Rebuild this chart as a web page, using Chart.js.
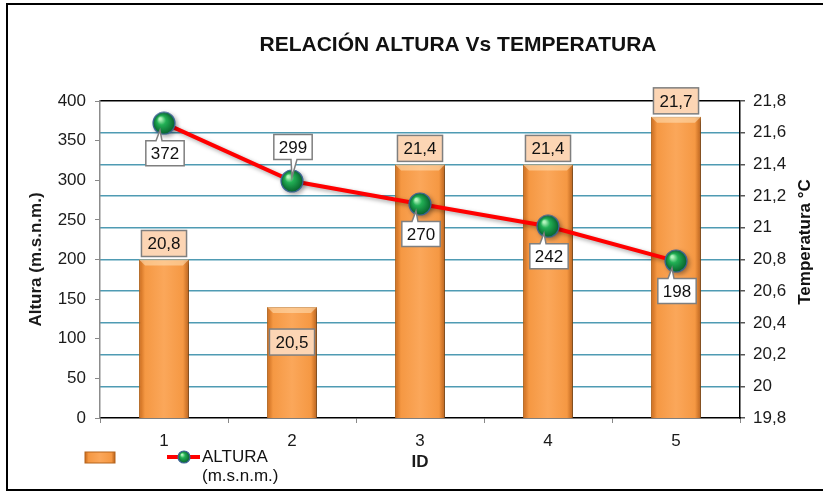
<!DOCTYPE html>
<html lang="es">
<head>
<meta charset="UTF-8" />
<title>Relación Altura Vs Temperatura</title>
<script src="https://cdn.jsdelivr.net/npm/chart.js@4"></script>
<style>
  html, body { margin: 0; padding: 0; background: #fff; }
  #wrap { width: 823px; height: 491px; }
</style>
</head>
<body>
<div id="wrap"><canvas id="chart" width="823" height="491"></canvas></div>
<script>
// data
const ids = ["1", "2", "3", "4", "5"];
const temperatura = [20.8, 20.5, 21.4, 21.4, 21.7];
const altura = [372, 299, 270, 242, 198];
const barLabelPlace = ["above", "inside", "above", "above", "above"];
const lineLabelPlace = ["below", "above", "below", "below", "below"];

const FONT = "'Liberation Sans', Arial, sans-serif";
const BAR_PCT = 0.39;
const GRID_BLUE = "#4F9BB3";

Chart.defaults.font.family = FONT;
Chart.defaults.font.size = 17;
Chart.defaults.color = "#1a1a1a";

const comma = (v) => String(Number(v.toFixed(1))).replace(".", ",");

// green ball used as point style
function sphere(r) {
  const c = document.createElement("canvas");
  const s = r * 2 + 2;
  c.width = c.height = s;
  const g = c.getContext("2d");
  const grad = g.createRadialGradient(s / 2 - r * 0.35, s / 2 - r * 0.4, r * 0.1, s / 2, s / 2, r);
  grad.addColorStop(0, "#B4F5BE");
  grad.addColorStop(0.35, "#22B055");
  grad.addColorStop(1, "#07602B");
  g.beginPath();
  g.arc(s / 2, s / 2, r, 0, Math.PI * 2);
  g.fillStyle = grad;
  g.fill();
  g.lineWidth = 1.2;
  g.strokeStyle = "#3D6596";
  g.stroke();
  return c;
}
const ball = sphere(11);
const smallBall = sphere(6);

function orangeGrad(ctx, x0, x1) {
  const g = ctx.createLinearGradient(x0, 0, x1, 0);
  g.addColorStop(0, "#C8691C");
  g.addColorStop(0.12, "#F59843");
  g.addColorStop(0.5, "#FBA75A");
  g.addColorStop(0.88, "#F59843");
  g.addColorStop(1, "#B9611B");
  return g;
}

function barFill(c) {
  const x = c.chart.scales.x;
  if (!x || c.dataIndex === undefined) return "#F79646";
  const cx = x.getPixelForValue(c.dataIndex);
  const half = (x.width / ids.length) * BAR_PCT / 2;
  if (!isFinite(cx) || !isFinite(half) || half <= 0) return "#F79646";
  return orangeGrad(c.chart.ctx, cx - half, cx + half);
}

function box(ctx, x, y, w, h, fill, text) {
  ctx.fillStyle = fill;
  ctx.fillRect(x, y, w, h);
  ctx.strokeStyle = "#7F7F7F";
  ctx.lineWidth = 1.5;
  ctx.strokeRect(x, y, w, h);
  ctx.fillStyle = "#111";
  ctx.fillText(text, x + w / 2, y + h / 2 + 1);
}

const decor = {
  id: "decor",
  beforeDatasetDraw(chart, args) {
    const ctx = chart.ctx;
    ctx.save();
    ctx.shadowColor = "rgba(0,0,0,0.35)";
    ctx.shadowOffsetX = args.index === 0 ? 3 : 2;
    ctx.shadowOffsetY = 2;
    ctx.shadowBlur = 4;
  },
  afterDatasetDraw(chart, args) {
    const ctx = chart.ctx;
    ctx.restore();
    if (args.index !== 0) return;
    // bevel on the bars
    args.meta.data.forEach((el) => {
      const { x, y, base, width } = el.getProps(["x", "y", "base", "width"], true);
      const l = x - width / 2, r = x + width / 2, b = 6;
      ctx.save();
      ctx.fillStyle = "rgba(255,225,185,0.55)";
      ctx.beginPath();
      ctx.moveTo(l, y); ctx.lineTo(r, y); ctx.lineTo(r - b, y + b); ctx.lineTo(l + b, y + b);
      ctx.closePath(); ctx.fill();
      ctx.fillStyle = "rgba(120,55,0,0.35)";
      ctx.beginPath();
      ctx.moveTo(l, base); ctx.lineTo(r, base); ctx.lineTo(r - b, base - b); ctx.lineTo(l + b, base - b);
      ctx.closePath(); ctx.fill();
      ctx.restore();
    });
  },
  afterDatasetsDraw(chart) {
    const ctx = chart.ctx;
    ctx.save();
    ctx.font = "17px " + FONT;
    ctx.textAlign = "center";
    ctx.textBaseline = "middle";

    // bar value labels
    chart.getDatasetMeta(0).data.forEach((el, i) => {
      const t = comma(temperatura[i]);
      const w = ctx.measureText(t).width + 12, h = 26;
      const cy = barLabelPlace[i] === "above" ? el.y - 3 - h / 2 : el.y + 35;
      box(ctx, el.x - w / 2, cy - h / 2, w, h, "#FCD5B4", t);
    });

    // callouts for the line
    chart.getDatasetMeta(1).data.forEach((el, i) => {
      const t = String(altura[i]);
      const w = ctx.measureText(t).width + 10, h = 25;
      const below = lineLabelPlace[i] === "below";
      const cx = el.x + 1;
      const cy = below ? el.y + 30 : el.y - 34;
      const x0 = cx - w / 2, x1 = cx + w / 2, y0 = cy - h / 2, y1 = cy + h / 2;
      ctx.beginPath();
      if (below) {
        ctx.moveTo(x0, y0); ctx.lineTo(cx - 9, y0); ctx.lineTo(el.x - 4, el.y + 7);
        ctx.lineTo(cx - 3, y0); ctx.lineTo(x1, y0); ctx.lineTo(x1, y1); ctx.lineTo(x0, y1);
      } else {
        ctx.moveTo(x0, y0); ctx.lineTo(x1, y0); ctx.lineTo(x1, y1); ctx.lineTo(cx + 4, y1);
        ctx.lineTo(el.x, el.y - 4); ctx.lineTo(cx - 2, y1); ctx.lineTo(x0, y1);
      }
      ctx.closePath();
      ctx.fillStyle = "#fff";
      ctx.fill();
      ctx.strokeStyle = "#7F7F7F";
      ctx.lineWidth = 1.5;
      ctx.stroke();
      ctx.fillStyle = "#111";
      ctx.fillText(t, cx, cy + 1);
    });
    ctx.restore();
  },
  afterDraw(chart) {
    const ctx = chart.ctx;
    ctx.save();
    // outer frame
    ctx.strokeStyle = "#000";
    ctx.lineWidth = 2;
    ctx.strokeRect(7, 4, 900, 486);

    // title
    ctx.fillStyle = "#111";
    ctx.textAlign = "center";
    ctx.textBaseline = "middle";
    ctx.font = "bold 21px " + FONT;
    ctx.fillText("RELACIÓN ALTURA Vs TEMPERATURA", 458, 45);

    // right axis title, reading upward
    ctx.save();
    ctx.translate(805, 242);
    ctx.rotate(-Math.PI / 2);
    ctx.font = "bold 17px " + FONT;
    ctx.fillText("Temperatura °C", 0, 0);
    ctx.restore();

    // legend
    ctx.fillStyle = orangeGrad(ctx, 85, 115);
    ctx.fillRect(85, 452, 30, 11);
    ctx.strokeStyle = "#B5651D";
    ctx.lineWidth = 1;
    ctx.strokeRect(85, 452, 30, 11);
    ctx.strokeStyle = "#FF0000";
    ctx.lineWidth = 4;
    ctx.beginPath();
    ctx.moveTo(167, 457); ctx.lineTo(200, 457);
    ctx.stroke();
    ctx.drawImage(smallBall, 184 - smallBall.width / 2, 457 - smallBall.height / 2);
    ctx.fillStyle = "#111";
    ctx.textAlign = "left";
    ctx.font = "17px " + FONT;
    ctx.fillText("ALTURA", 202, 457);
    ctx.fillText("(m.s.n.m.)", 202, 476);
    ctx.restore();
  }
};

new Chart(document.getElementById("chart"), {
  data: {
    labels: ids,
    datasets: [
      {
        type: "bar",
        label: "Temperatura",
        data: temperatura,
        yAxisID: "y1",
        backgroundColor: barFill,
        borderColor: "#B5651D",
        borderWidth: 1,
        barPercentage: BAR_PCT,
        categoryPercentage: 1,
        order: 1
      },
      {
        type: "line",
        label: "ALTURA (m.s.n.m.)",
        data: altura,
        yAxisID: "y",
        borderColor: "#FF0000",
        borderWidth: 4,
        pointStyle: ball,
        pointRadius: 11,
        tension: 0,
        order: 0
      }
    ]
  },
  plugins: [decor],
  options: {
    responsive: false,
    animation: false,
    layout: { padding: { top: 101, left: 8, right: 0, bottom: 0 } },
    plugins: {
      legend: { display: false },
      title: { display: false },
      tooltip: { enabled: false }
    },
    scales: {
      x: {
        grid: { offset: true, drawOnChartArea: false, tickLength: 5, color: "#888" },
        border: { color: "#000", width: 1.5 },
        ticks: { padding: 8, maxRotation: 0 },
        title: { display: true, text: "ID", font: { weight: "bold", size: 17 }, padding: { top: 0, bottom: 18 } },
        afterFit: (s) => { s.height = 73; }
      },
      y: {
        position: "left",
        min: 0,
        max: 400,
        ticks: { stepSize: 50, padding: 9 },
        grid: { drawOnChartArea: false, tickLength: 5, color: "#888" },
        border: { color: "#8C8C8C", width: 1.5 },
        title: { display: true, text: "Altura (m.s.n.m.)", font: { weight: "bold", size: 17 }, padding: { top: 18, bottom: 0 } },
        afterFit: (s) => { s.width = 92; }
      },
      y1: {
        position: "right",
        min: 19.8,
        max: 21.8,
        ticks: { stepSize: 0.2, padding: 8, callback: (v) => comma(v) },
        grid: {
          tickLength: 5,
          lineWidth: 1.5,
          tickColor: "#555",
          color: (c) => {
            const v = c.tick ? c.tick.value : 0;
            if (Math.abs(v - 21.8) < 1e-6) return "#000";
            if (Math.abs(v - 19.8) < 1e-6) return "rgba(0,0,0,0)";
            return GRID_BLUE;
          }
        },
        border: { color: "#000", width: 1.5 },
        title: { display: false },
        afterFit: (s) => { s.width = 83; }
      }
    }
  }
});
</script>
</body>
</html>
